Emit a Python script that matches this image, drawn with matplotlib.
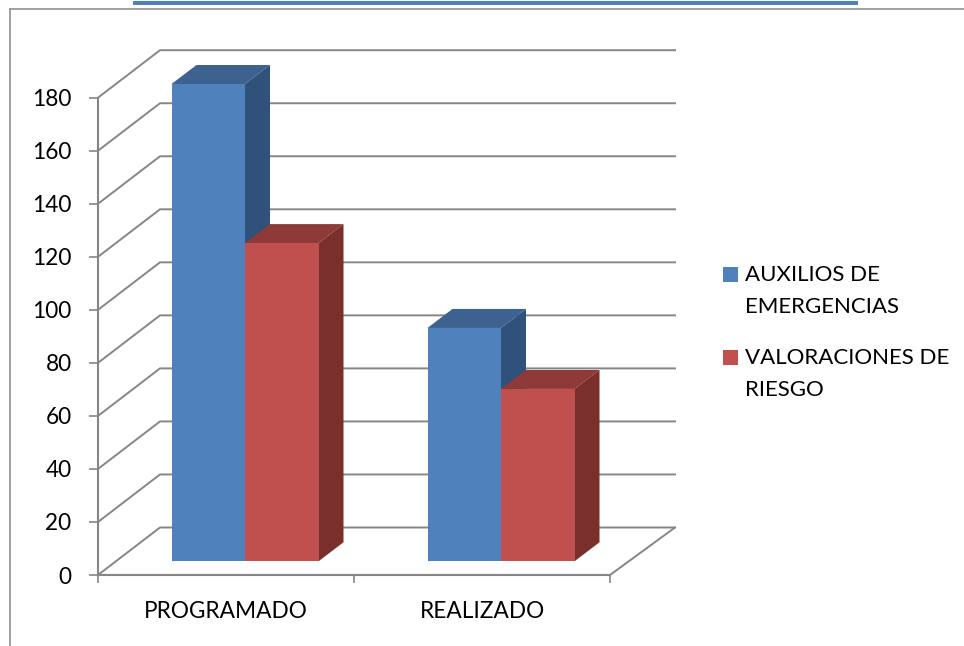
import matplotlib
matplotlib.use("Agg")
import matplotlib.pyplot as plt
from matplotlib.lines import Line2D
from matplotlib.patches import Rectangle

categories = ["PROGRAMADO", "REALIZADO"]
series_names = ["AUXILIOS DE\nEMERGENCIAS", "VALORACIONES DE\nRIESGO"]
auxilios = [180, 88]
valoraciones = [120, 65]
y_ticks = [0, 20, 40, 60, 80, 100, 120, 140, 160, 180]

W, H = 964, 646
plt.rcParams["font.family"] = ["Lato", "DejaVu Sans"]
fig = plt.figure(figsize=(W / 100, H / 100), dpi=100)
L, R, B, T = 98, 610, 575, 97.7
ax = fig.add_axes([L / W, 1 - B / H, (R - L) / W, (B - T) / H])
ax.set_xlim(0, 2)
ax.set_ylim(0, 180)
ax.patch.set_alpha(0)

px_x = 2 / (R - L)
px_y = 180 / (B - T)
AX_C = "#868686"
wall_dx, wall_dy = 62 * px_x, 47.5 * px_y
gap_dx, gap_dy = 19 * px_x, 13.7 * px_y
bar_dx, bar_dy = 25 * px_x, 19 * px_y
bar_w = 73.5 * px_x

# gridlines: left wall diagonal + back wall
for v in y_ticks:
    ax.plot([0, wall_dx, 2 + 65 * px_x], [v, v + wall_dy, v + wall_dy],
            color=AX_C, lw=1.4, clip_on=False, zorder=1, solid_joinstyle="miter")
ax.plot([2, 2 + 65 * px_x], [0, wall_dy], color=AX_C, lw=1.4, clip_on=False, zorder=1)


def draw(idx, offs, values, front, top, side, label):
    xs = [i + 0.5 + offs * bar_w + gap_dx for i in idx]
    ax.bar(xs, values, width=bar_w, bottom=gap_dy, align="edge", color=front,
           label=label, zorder=3, clip_on=False, linewidth=0)
    for x, v in zip(xs, values):
        y0, y1 = gap_dy, gap_dy + v
        ax.fill([x, x + bar_w, x + bar_w + bar_dx, x + bar_dx],
                [y1, y1, y1 + bar_dy, y1 + bar_dy], color=top, lw=0, zorder=2.5, clip_on=False)
        ax.fill([x + bar_w, x + bar_w + bar_dx, x + bar_w + bar_dx, x + bar_w],
                [y0, y0 + bar_dy, y1 + bar_dy, y1], color=side, lw=0, zorder=2.5, clip_on=False)


idx = list(range(len(categories)))
draw(idx, -1, auxilios, "#4F81BD", "#3D628F", "#30527A", series_names[0])
draw(idx, 0, valoraciones, "#C0504D", "#8E3A38", "#7A2F2D", series_names[1])

for s in ["top", "right"]:
    ax.spines[s].set_visible(False)
for s in ["left", "bottom"]:
    ax.spines[s].set_color(AX_C)
    ax.spines[s].set_linewidth(1.5)
    ax.spines[s].set_zorder(4)
ax.set_yticks(y_ticks)
ax.tick_params(axis="y", length=6.5, width=1.2, color=AX_C, pad=12.5, labelsize=16.3, labelcolor="black")
ax.set_xticks([0, 1, 2])
ax.set_xticklabels([])
ax.tick_params(axis="x", length=6, width=1.2, color=AX_C)
for i, c in enumerate(categories):
    ax.annotate(c, (i + 0.5, 0), xytext=(0, -19), textcoords="offset points",
                ha="center", va="top", fontsize=16.3, color="black", annotation_clip=False)

leg = fig.legend(loc="upper left", bbox_to_anchor=(723 / W, 1 - 264.5 / H), frameon=False,
                 fontsize=16, handlelength=0.68, handleheight=0.68, handletextpad=0.31,
                 labelspacing=1.4, borderpad=0, borderaxespad=0)
for t in leg.get_texts():
    t.set_linespacing(1.75)
for h in leg.legend_handles:
    h.set_y(h.get_y() + 11.5)

# page decoration around the chart
fig.add_artist(Line2D([9.5 / W, 9.5 / W], [1 - 8.5 / H, 0], color="#9a9a9a", lw=1.3))
fig.add_artist(Line2D([9.5 / W, 1], [1 - 8.5 / H, 1 - 8.5 / H], color="#9a9a9a", lw=1.3))
fig.add_artist(Rectangle((133 / W, 1 - 5 / H), 725 / W, 4 / H, transform=fig.transFigure,
                         color="#4F81BD", lw=0))
fig.savefig("out.png", dpi=100)
